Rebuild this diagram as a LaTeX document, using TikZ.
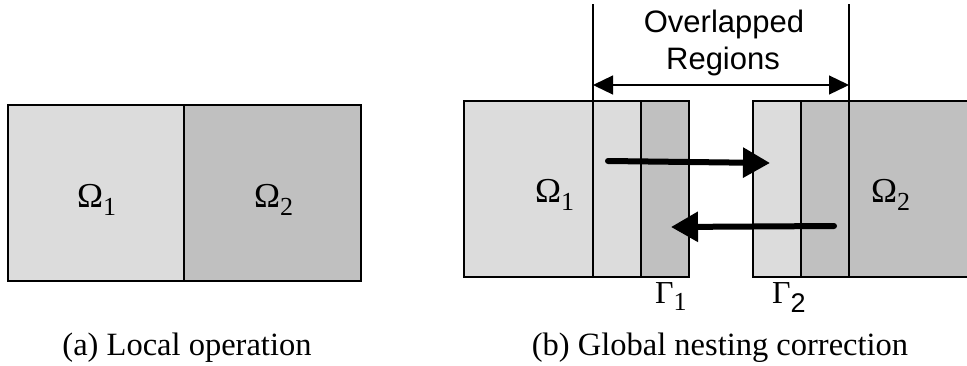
\documentclass[tikz,border=0pt]{standalone}
\usepackage{fontspec}
\setmainfont{Liberation Serif}
\newfontfamily\arialf{Liberation Sans}
\usetikzlibrary{arrows.meta}
\definecolor{lightg}{HTML}{DCDCDC}
\definecolor{darkg}{HTML}{C0C0C0}
\tikzset{
  cell/.style={draw=black, line width=2pt},
  dimline/.style={draw=black, line width=1.3pt},
  dimarrow/.style={draw=black, line width=1.3pt, {Triangle[length=20pt,width=19pt]}-{Triangle[length=20pt,width=19pt]}},
  bigarrow/.style={draw=black, line width=6pt, line cap=round, -{Triangle[length=27pt,width=29pt]}},
  omlabel/.style={anchor=base west, inner sep=0pt, font=\fontsize{35}{35}\selectfont},
  gamlabel/.style={anchor=base west, inner sep=0pt, font=\fontsize{32}{32}\selectfont},
  caption/.style={anchor=base, inner sep=0pt, font=\fontsize{32.5}{32.5}\selectfont},
  sanstext/.style={anchor=base, inner sep=0pt, font=\arialf\fontsize{31}{31}\selectfont}
}
\newcommand{\subdig}[1]{\raisebox{-8pt}{\fontsize{26}{26}\selectfont #1}}
\begin{document}
\begin{tikzpicture}[x=1pt,y=-1pt]
\useasboundingbox (0,0) rectangle (967,365);
% (a) local operation
\fill[lightg] (8,105) rectangle (184,281);
\fill[darkg] (184,105) rectangle (361,281);
\draw[cell] (8,105) rectangle (184,281);
\draw[cell] (184,105) rectangle (361,281);
\node[omlabel] (oa1) at (77,207) {Ω\subdig{1}};
\node[omlabel] (oa2) at (254,207) {Ω\subdig{2}};
% (b) global nesting correction
\fill[lightg] (464,101) rectangle (641,277);
\fill[darkg] (641,101) rectangle (689,277);
\fill[lightg] (753,101) rectangle (801,277);
\fill[darkg] (801,101) rectangle (970,277);
\draw[cell] (464,101) rectangle (593,277);
\draw[cell] (593,101) rectangle (641,277);
\draw[cell] (641,101) rectangle (689,277);
\draw[cell] (753,101) rectangle (801,277);
\draw[cell] (801,101) rectangle (849,277);
\draw[cell] (849,101) rectangle (972,277);
% dimension
\coordinate (dl) at (593,85);
\coordinate (dr) at (849,85);
\coordinate (dlt) at (593,4);
\coordinate (drt) at (849,4);
\coordinate (dlb) at (593,101);
\coordinate (drb) at (849,101);
\draw[dimline] (dlt) -- (dlb);
\draw[dimline] (drt) -- (drb);
\draw[dimarrow] (dl) -- (dr);
\node[sanstext] (ov) at (724,32) {Overlapped};
\node[sanstext] (rg) at (723,69) {Regions};
% arrows
\coordinate (a1s) at (608,161);
\coordinate (a1e) at (770,163);
\coordinate (a2s) at (834,226);
\coordinate (a2e) at (671,227);
\draw[bigarrow] (a1s) -- (a1e);
\draw[bigarrow] (a2s) -- (a2e);
\node[omlabel] (ob1) at (535,202) {Ω\subdig{1}};
\node[omlabel] (ob2) at (871,202) {Ω\subdig{2}};
\node[gamlabel] (g1) at (655,303) {Γ\raisebox{-7pt}{\fontsize{26}{26}\selectfont 1}};
\node[gamlabel] (g2) at (772,303) {Γ\raisebox{-9pt}{\arialf\fontsize{27}{27}\selectfont 2}};
% captions
\node[caption] (ca) at (187,355) {(a) Local operation};
\node[caption] (cb) at (720,355) {(b) Global nesting correction};
\end{tikzpicture}
\end{document}
